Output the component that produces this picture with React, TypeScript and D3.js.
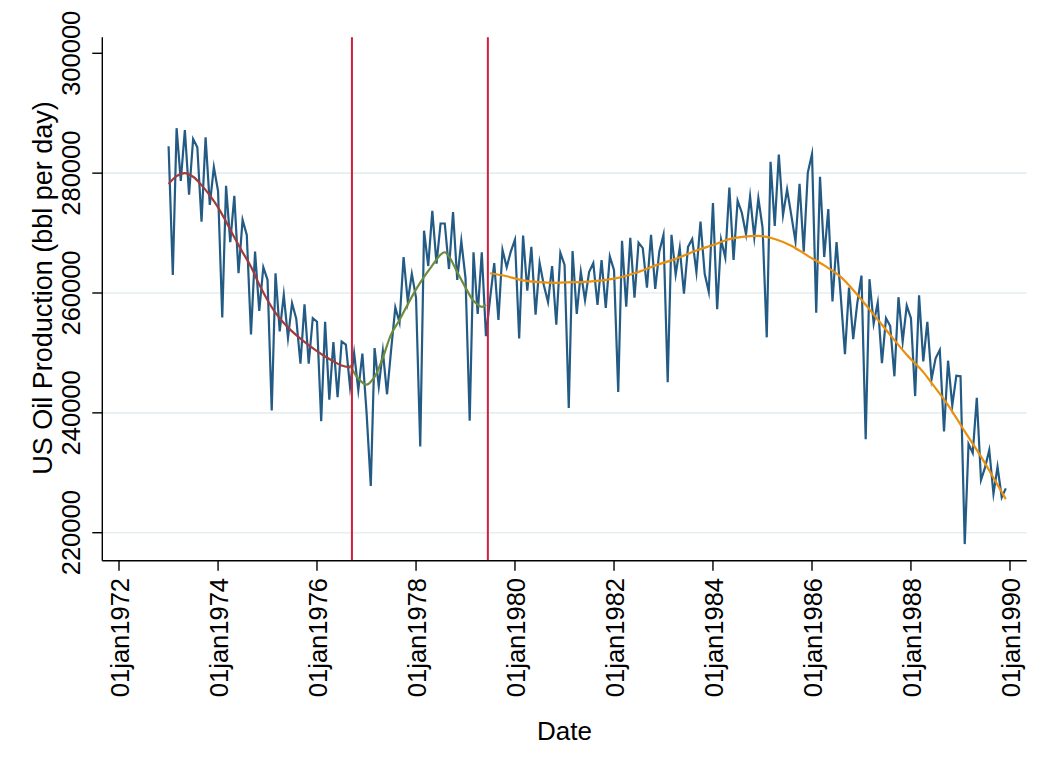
import React from 'react'
import * as d3 from 'd3'

// monthly US oil production, bbl per day, Jan 1973 .. Dec 1989
const startMonth = new Date(1973, 0, 1)
const production: number[] = [
  284500, 263000, 287500, 278700, 287200, 276400, 285700, 284300, 271900, 286000, 274700, 281000, // 1973
  277000, 255900, 277900, 268500, 276200, 263300, 272200, 269700, 253100, 266900, 257000, 264300, // 1974
  262200, 240400, 263300, 253600, 259700, 252500, 258300, 255700, 248200, 258100, 248200, 255800, // 1975
  255200, 238600, 255200, 242200, 251800, 242600, 251900, 251400, 244300, 250000, 243800, 249900, // 1976
  240000, 227800, 250800, 244400, 250300, 243100, 250500, 257600, 255100, 266000, 258600, 263200, // 1977
  259200, 234400, 270400, 264500, 273700, 264900, 271600, 271600, 264000, 273500, 262200, 268700, // 1978
  262500, 238700, 266800, 256500, 266800, 252800, 259000, 265000, 255500, 267200, 264300, 266900, // 1979
  268900, 252400, 269600, 260400, 267700, 256400, 265000, 261300, 258500, 264500, 254700, 266700, // 1980
  264700, 240800, 267000, 256500, 263500, 258800, 263500, 265000, 258000, 265500, 257500, 266100, // 1981
  263800, 243500, 268700, 257700, 269200, 259200, 268400, 267500, 260900, 269700, 260700, 266900, // 1982
  269700, 245100, 269700, 263100, 267500, 259900, 267700, 269000, 263500, 271900, 263200, 260200, // 1983
  275000, 257300, 268900, 265900, 277600, 265500, 275400, 273400, 269800, 276100, 269300, 275800, // 1984
  270900, 252600, 281900, 271200, 283100, 273000, 277300, 273000, 268600, 278200, 266900, 280100, // 1985
  283200, 256700, 279400, 266000, 274000, 258600, 268500, 259500, 249800, 260900, 252300, 258300, // 1986
  262900, 235600, 262300, 254900, 258400, 248300, 255800, 254500, 246100, 259300, 251900, 257900, // 1987
  255800, 242800, 259600, 248600, 255200, 245600, 249100, 250500, 236900, 248700, 241200, 246200, // 1988
  246100, 218100, 234800, 233300, 242500, 228800, 230900, 233800, 226500, 231000, 225900, 227400, // 1989
]

// smooth fits per period: [month offset from Jan 1973, value]
const fitPeriod1: [number, number][] = [
  [0, 278200], [2, 279500], [4, 280000], [6, 279400], [8, 278000], [10, 276300], [12, 274300],
  [14, 271900], [16, 269300], [18, 266800], [20, 264400], [22, 261400], [24, 258800], [26, 256700],
  [28, 255000], [30, 253600], [32, 252400], [34, 251300], [36, 250300], [38, 249400], [40, 248600],
  [42, 247900], [44, 247600],
]
const fitPeriod2: [number, number][] = [
  [44, 248000], [46, 245700], [48, 244700], [50, 246000], [52, 249200], [54, 253100], [56, 255500],
  [58, 258100], [60, 260600], [62, 262700], [64, 264600], [66, 266400], [67, 266800], [68, 266100],
  [70, 263500], [72, 260900], [74, 258700], [76, 257700], [77, 258000],
]
const fitPeriod3: [number, number][] = [
  [78, 263300], [82, 262800], [86, 262100], [90, 261800], [94, 261700], [98, 261800], [102, 261900],
  [108, 262400], [113, 263300], [118, 264600], [123, 265700], [128, 267100], [132, 268000],
  [136, 269000], [141, 269500], [144, 269500], [147, 269000], [151, 267900], [155, 266200],
  [159, 264600], [163, 262700], [167, 259700], [171, 256400], [175, 253000], [179, 249700],
  [183, 246800], [185, 245000], [189, 241300], [193, 236900], [197, 232700], [201, 228000],
  [203, 225600],
]

const breakDates = [new Date(1976, 8, 15), new Date(1979, 5, 15)]
const yTicks = [220000, 240000, 260000, 280000, 300000]
const gridTicks = [220000, 240000, 260000, 280000]
const xTickYears = [1972, 1974, 1976, 1978, 1980, 1982, 1984, 1986, 1988, 1990]

const W = 1050, H = 776
const plot = { left: 102.3, right: 1026.7, top: 37.3, bottom: 560.7 }
const font = '"Liberation Sans", Arial, Helvetica, sans-serif'

const blue = '#235b85'
const colFit1 = '#a23b3c'
const colFit2 = '#6f8c3b'
const colFit3 = '#ea900c'
const colBreak = '#d11f3d'
const colGrid = '#e5eef0'

export default function App() {
  const x = d3.scaleTime().domain([new Date(1972, 0, 1), new Date(1990, 0, 1)]).range([119, 1010])
  const y = d3.scaleLinear().domain([220000, 300000]).range([532.7, 53.3])
  const monthDate = (m: number) => d3.timeMonth.offset(startMonth, m)
  const fmt = d3.timeFormat('%d%b%Y')

  const dataLine = d3.line<number>()
    .x((_, i) => x(monthDate(i)))
    .y(d => y(d))
  const fitLine = d3.line<[number, number]>()
    .x(d => x(monthDate(d[0])))
    .y(d => y(d[1]))
    .curve(d3.curveCatmullRom)

  return (
    <svg width={W} height={H} style={{ position: 'absolute', left: 0, top: 0, background: '#fff' }}
      fontFamily={font}>
      <rect width={W} height={H} fill="#fff" />
      {gridTicks.map(t => (
        <line key={'g' + t} x1={plot.left} x2={plot.right} y1={y(t)} y2={y(t)}
          stroke={colGrid} strokeWidth={1.6} />
      ))}

      <path d={dataLine(production) ?? ''} fill="none" stroke={blue} strokeWidth={2.2}
        strokeLinejoin="miter" strokeMiterlimit={10} />
      <path d={fitLine(fitPeriod1) ?? ''} fill="none" stroke={colFit1} strokeWidth={2.2} />
      <path d={fitLine(fitPeriod2) ?? ''} fill="none" stroke={colFit2} strokeWidth={2.2} />
      <path d={fitLine(fitPeriod3) ?? ''} fill="none" stroke={colFit3} strokeWidth={2.2} />

      {breakDates.map((d, i) => (
        <line key={'b' + i} x1={x(d)} x2={x(d)} y1={plot.top} y2={plot.bottom}
          stroke={colBreak} strokeWidth={2} />
      ))}

      {/* y axis */}
      <line x1={plot.left} x2={plot.left} y1={plot.top} y2={plot.bottom} stroke="#000" strokeWidth={1.4} />
      {yTicks.map(t => (
        <g key={'y' + t}>
          <line x1={plot.left - 10} x2={plot.left} y1={y(t)} y2={y(t)} stroke="#000" strokeWidth={1.4} />
          <text transform={`translate(80,${y(t)}) rotate(-90)`} textAnchor="middle" fontSize={25.5}>
            {t}
          </text>
        </g>
      ))}
      <text transform={`translate(51.7,288) rotate(-90)`} textAnchor="middle" fontSize={27}>
        US Oil Production (bbl per day)
      </text>

      {/* x axis */}
      <line x1={plot.left} x2={plot.right} y1={plot.bottom} y2={plot.bottom} stroke="#000" strokeWidth={1.4} />
      {xTickYears.map(yr => {
        const px = x(new Date(yr, 0, 1))
        return (
          <g key={'x' + yr}>
            <line x1={px} x2={px} y1={plot.bottom} y2={plot.bottom + 10} stroke="#000" strokeWidth={1.4} />
            <text transform={`translate(${px + 10.3},578) rotate(-90)`} textAnchor="end" fontSize={25.5}>
              {fmt(new Date(yr, 0, 1)).toLowerCase()}
            </text>
          </g>
        )
      })}
      <text x={(plot.left + plot.right) / 2} y={740} textAnchor="middle" fontSize={26}>Date</text>
    </svg>
  )
}
